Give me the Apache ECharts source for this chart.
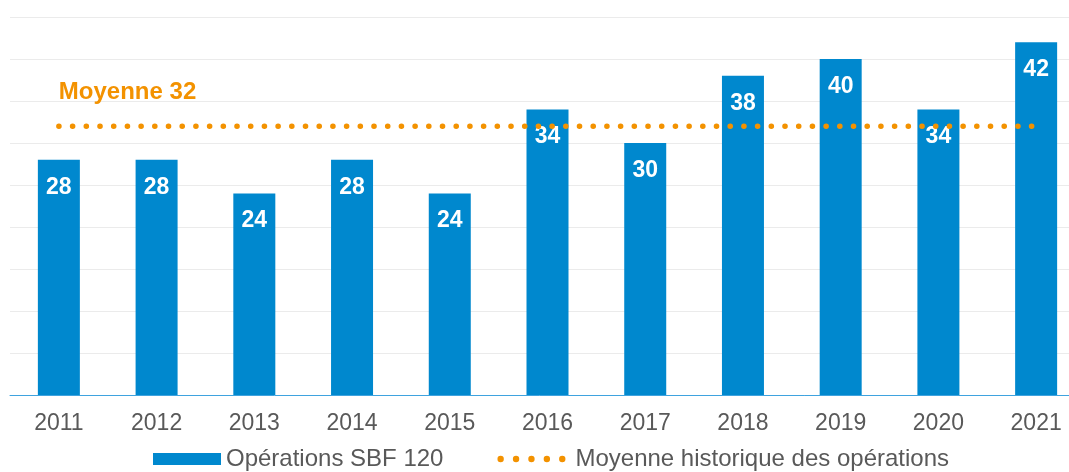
<!DOCTYPE html>
<html>
<head>
<meta charset="utf-8">
<script src="https://cdn.jsdelivr.net/npm/echarts@6/dist/echarts.min.js"></script>
<style>
  html, body { margin: 0; padding: 0; background: #fff; }
  #chart { width: 1069px; height: 472px; }
</style>
</head>
<body>
<div id="chart"></div>
<script>
// données
const years = ['2011', '2012', '2013', '2014', '2015', '2016', '2017', '2018', '2019', '2020', '2021'];
const operations = [28, 28, 24, 28, 24, 34, 30, 38, 40, 34, 42];
const moyenne = [32, 32, 32, 32, 32, 32, 32, 32, 32, 32, 32];

const blue = '#0088CE';
const orange = '#F39200';
const grey = '#595959';
const font = '"Liberation Sans", Arial, sans-serif';

const myChart = echarts.init(document.getElementById('chart'));

// 5 points pour l'icone de la moyenne
const dotsIcon = 'path://' + [0, 1, 2, 3, 4].map(function (i) {
    const cx = 3 + i * 14.5;
    return 'M' + (cx - 3) + ',3a3,3 0 1,0 6,0a3,3 0 1,0 -6,0z';
}).join('');

const option = {
    animation: false,
    textStyle: { fontFamily: font },
    grid: {
        left: 10,
        width: 1075,
        top: 17,
        bottom: 77,
        outerBoundsMode: 'none'
    },
    legend: {
        left: 148,
        top: 442,
        itemWidth: 68,
        itemHeight: 12,
        itemGap: 54,
        symbolKeepAspect: true,
        textStyle: { color: grey, fontSize: 24, fontFamily: font },
        data: [
            { name: 'Opérations SBF 120', icon: 'rect' },
            {
                name: 'Moyenne historique des opérations',
                icon: dotsIcon,
                itemStyle: { color: orange, borderWidth: 0 },
                textStyle: { padding: [0, 0, 0, 5] }
            }
        ]
    },
    xAxis: {
        type: 'category',
        data: years,
        axisTick: { show: false },
        axisLine: { lineStyle: { color: '#3FA3DF', width: 1 } },
        axisLabel: { color: grey, fontSize: 23, margin: 17 }
    },
    yAxis: {
        type: 'value',
        min: 0,
        max: 45,
        interval: 5,
        axisLabel: { show: false },
        axisLine: { show: false },
        axisTick: { show: false },
        splitLine: { lineStyle: { color: '#EBEBEB', width: 1 } }
    },
    series: [
        {
            name: 'Opérations SBF 120',
            type: 'bar',
            data: operations,
            barWidth: 42,
            itemStyle: { color: blue },
            label: {
                show: true,
                position: 'insideTop',
                distance: 16,
                color: '#fff',
                fontWeight: 'bold',
                fontSize: 23
            },
            z: 2
        },
        {
            name: 'Moyenne historique des opérations',
            type: 'line',
            data: moyenne.map(function (v, i) {
                if (i === 0) {
                    return {
                        value: v,
                        label: {
                            show: true,
                            position: 'top',
                            align: 'left',
                            distance: 22,
                            formatter: 'Moyenne {c}',
                            color: orange,
                            fontWeight: 'bold',
                            fontSize: 24
                        }
                    };
                }
                return v;
            }),
            symbol: 'circle',
            symbolSize: 0.01,
            showSymbol: true,
            showAllSymbol: true,
            itemStyle: { color: orange },
            lineStyle: {
                color: orange,
                width: 5.5,
                type: [0.1, 13.6],
                cap: 'round'
            },
            z: 3
        }
    ]
};

option && myChart.setOption(option);
</script>
</body>
</html>
